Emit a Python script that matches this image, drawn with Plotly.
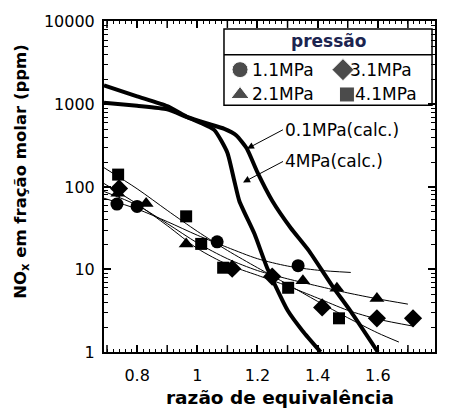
import plotly.graph_objects as go
import numpy as np

# ---- data ----
circ_x = [0.733, 0.80, 1.066, 1.335]
circ_y = [62, 58, 21.6, 11.1]
tri_x = [0.736, 0.83, 0.963, 1.351, 1.464, 1.597]
tri_y = [84, 63, 20.4, 7.3, 5.9, 4.45]
dia_x = [0.740, 1.116, 1.249, 1.415, 1.597, 1.717]
dia_y = [96, 10.2, 8.2, 3.47, 2.56, 2.56]
sq_x = [0.737, 0.963, 1.013, 1.086, 1.302, 1.471]
sq_y = [141, 44, 20.4, 10.5, 6.0, 2.56]

fit_c_x = [0.69, 0.80, 0.90, 1.0, 1.1, 1.2, 1.3, 1.4, 1.51]
fit_c_y = [73, 54, 38, 26, 18.5, 13.5, 11, 9.8, 9.2]
fit_t_x = [0.69, 0.80, 0.90, 1.0, 1.1, 1.2, 1.3, 1.4, 1.5, 1.6, 1.70]
fit_t_y = [88, 60, 36, 21, 13.5, 9.7, 7.7, 6.3, 5.2, 4.4, 3.8]
fit_d_x = [0.69, 0.80, 0.90, 1.0, 1.1, 1.2, 1.3, 1.4, 1.5, 1.6, 1.72]
fit_d_y = [110, 62, 34, 18, 11.5, 8.5, 6.3, 4.5, 3.2, 2.5, 2.05]
fit_s_x = [0.69, 0.80, 0.90, 1.0, 1.1, 1.2, 1.3, 1.4, 1.5, 1.6, 1.67]
fit_s_y = [171, 95, 52, 29, 17, 10.5, 6.6, 4.1, 2.6, 1.7, 1.32]

calc4_x = [0.69, 0.80, 0.90, 0.966, 1.056, 1.10, 1.122, 1.14, 1.19, 1.232, 1.30, 1.35, 1.41]
calc4_y = [1700, 1250, 950, 703, 491, 260, 123, 67, 27, 10.5, 3.2, 1.8, 1.0]
calc01_x = [0.69, 0.80, 0.90, 0.966, 1.03, 1.09, 1.13, 1.165, 1.20, 1.25, 1.31, 1.37, 1.45, 1.51, 1.60]
calc01_y = [1050, 960, 870, 703, 590, 505, 420, 290, 150, 67, 32, 17, 6.2, 3.1, 1.0]

x_ticks = [0.8, 1.0, 1.2, 1.4, 1.6, 1.8]
x_labels = ["0.8", "1", "1.2", "1.4", "1.6", "1.8"]
x_mid_ticks = [0.7, 0.9, 1.1, 1.3, 1.5, 1.7]
y_ticks = [1, 10, 100, 1000, 10000]
y_labels = ["1", "10", "100", "1000", "10000"]

legend_names = ["1.1MPa", "3.1MPa", "2.1MPa", "4.1MPa"]
legend_symbols = ["circle", "diamond", "triangle-up", "square"]

FONT = "DejaVu Sans, sans-serif"

fig = go.Figure()

# thin fit lines
for fx, fy in [(fit_c_x, fit_c_y), (fit_t_x, fit_t_y), (fit_d_x, fit_d_y), (fit_s_x, fit_s_y)]:
    fig.add_trace(go.Scatter(x=fx, y=fy, mode="lines",
                             line=dict(color="black", width=1, shape="spline", smoothing=0.8),
                             showlegend=False, hoverinfo="skip"))

# thick calc curves
for cx, cy in [(calc4_x, calc4_y), (calc01_x, calc01_y)]:
    fig.add_trace(go.Scatter(x=cx, y=cy, mode="lines",
                             line=dict(color="black", width=4, shape="spline", smoothing=0.5),
                             showlegend=False, hoverinfo="skip"))

# data points
for px_, py_, sym, sz in [(circ_x, circ_y, "circle", 13), (tri_x, tri_y, "triangle-up", 13),
                          (dia_x, dia_y, "diamond", 14), (sq_x, sq_y, "square", 12)]:
    fig.add_trace(go.Scatter(x=px_, y=py_, mode="markers",
                             marker=dict(symbol=sym, size=sz, color="black"),
                             showlegend=False))

# manual legend markers on an overlay axis spanning the plot area [0,1]
leg_mx = [0.411, 0.722, 0.411, 0.734]
leg_my = [0.853, 0.853, 0.778, 0.778]
fig.add_trace(go.Scatter(x=leg_mx, y=leg_my, mode="markers", xaxis="x2", yaxis="y2",
                         marker=dict(symbol=legend_symbols, size=[16, 17, 16, 15], color="black"),
                         showlegend=False, hoverinfo="skip"))

tick_font = dict(family=FONT, size=16, color="black")
fig.update_layout(
    width=450, height=410,
    margin=dict(l=104, r=15, t=18, b=58),
    paper_bgcolor="white", plot_bgcolor="white",
    showlegend=False,
    xaxis=dict(range=[0.69, 1.79], tickmode="array", tickvals=x_ticks, ticktext=x_labels,
               ticks="inside", ticklen=7, tickwidth=1.5, tickcolor="black",
               minor=dict(ticks="inside", dtick=0.02, ticklen=3, tickcolor="black", tickwidth=1),
               showline=True, linewidth=2, linecolor="black", mirror="ticks",
               showgrid=False, zeroline=False, tickfont=tick_font, ticklabelstandoff=8),
    yaxis=dict(type="log", range=[0, 4.01], tickmode="array", tickvals=y_ticks, ticktext=y_labels,
               ticks="inside", ticklen=7, tickwidth=1.5, tickcolor="black",
               minor=dict(ticks="inside", dtick="D1", ticklen=4, tickcolor="black", tickwidth=1),
               showline=True, linewidth=2, linecolor="black", mirror="ticks",
               showgrid=False, zeroline=False, tickfont=tick_font, ticklabelstandoff=4),
    xaxis2=dict(overlaying="x", range=[0, 1], visible=False, fixedrange=True),
    yaxis2=dict(overlaying="y", range=[0, 1], visible=False, fixedrange=True),
)

# intermediate (0.1-step) major ticks, bottom and top
for xv in x_mid_ticks:
    fig.add_shape(type="line", xref="x", yref="paper", x0=xv, x1=xv, y0=0, y1=7 / 334,
                  line=dict(color="black", width=1.5))
    fig.add_shape(type="line", xref="x", yref="paper", x0=xv, x1=xv, y0=1, y1=1 - 7 / 334,
                  line=dict(color="black", width=1.5))

# axis titles
fig.add_annotation(xref="paper", yref="paper", x=0.532, y=-0.138, text="<b>razão de equivalência</b>",
                   showarrow=False, xanchor="center", yanchor="middle",
                   font=dict(family=FONT, size=18.5, color="black"))
fig.add_annotation(xref="paper", yref="paper", x=-0.25, y=0.545,
                   text="<b>NO<sub>x</sub> em fração molar (ppm)</b>", textangle=-90,
                   showarrow=False, xanchor="center", yanchor="middle",
                   font=dict(family=FONT, size=16.5, color="black"))

# legend box
fig.add_shape(type="rect", xref="paper", yref="paper", x0=0.3625, x1=0.991, y0=0.7455, y1=0.976,
              line=dict(color="black", width=1.5), fillcolor="white", layer="below")
fig.add_shape(type="line", xref="paper", yref="paper", x0=0.3625, x1=0.991, y0=0.898, y1=0.898,
              line=dict(color="black", width=1.5))
fig.add_annotation(xref="paper", yref="paper", x=0.677, y=0.940, text="<b>pressão</b>", showarrow=False,
                   font=dict(family=FONT, size=17, color="#1c2450"), xanchor="center", yanchor="middle")
leg_tx = [0.440, 0.738, 0.440, 0.752]
for tx, ty, name in zip(leg_tx, leg_my, legend_names):
    fig.add_annotation(xref="paper", yref="paper", x=tx, y=ty, text=name, showarrow=False,
                       font=dict(family=FONT, size=17, color="black"), xanchor="left", yanchor="middle")

# curve labels with arrows
fig.add_annotation(x=1.165, y=2.462, ax=36, ay=-19, text="0.1MPa(calc.)", showarrow=True,
                   xanchor="left", yanchor="middle",
                   arrowhead=2, arrowsize=1.4, arrowwidth=1, arrowcolor="black",
                   font=dict(family=FONT, size=17, color="black"))
fig.add_annotation(x=1.152, y=2.054, ax=40, ay=-21, text="4MPa(calc.)", showarrow=True,
                   xanchor="left", yanchor="middle",
                   arrowhead=2, arrowsize=1.4, arrowwidth=1, arrowcolor="black",
                   font=dict(family=FONT, size=17, color="black"))

fig.write_html("out.html")
